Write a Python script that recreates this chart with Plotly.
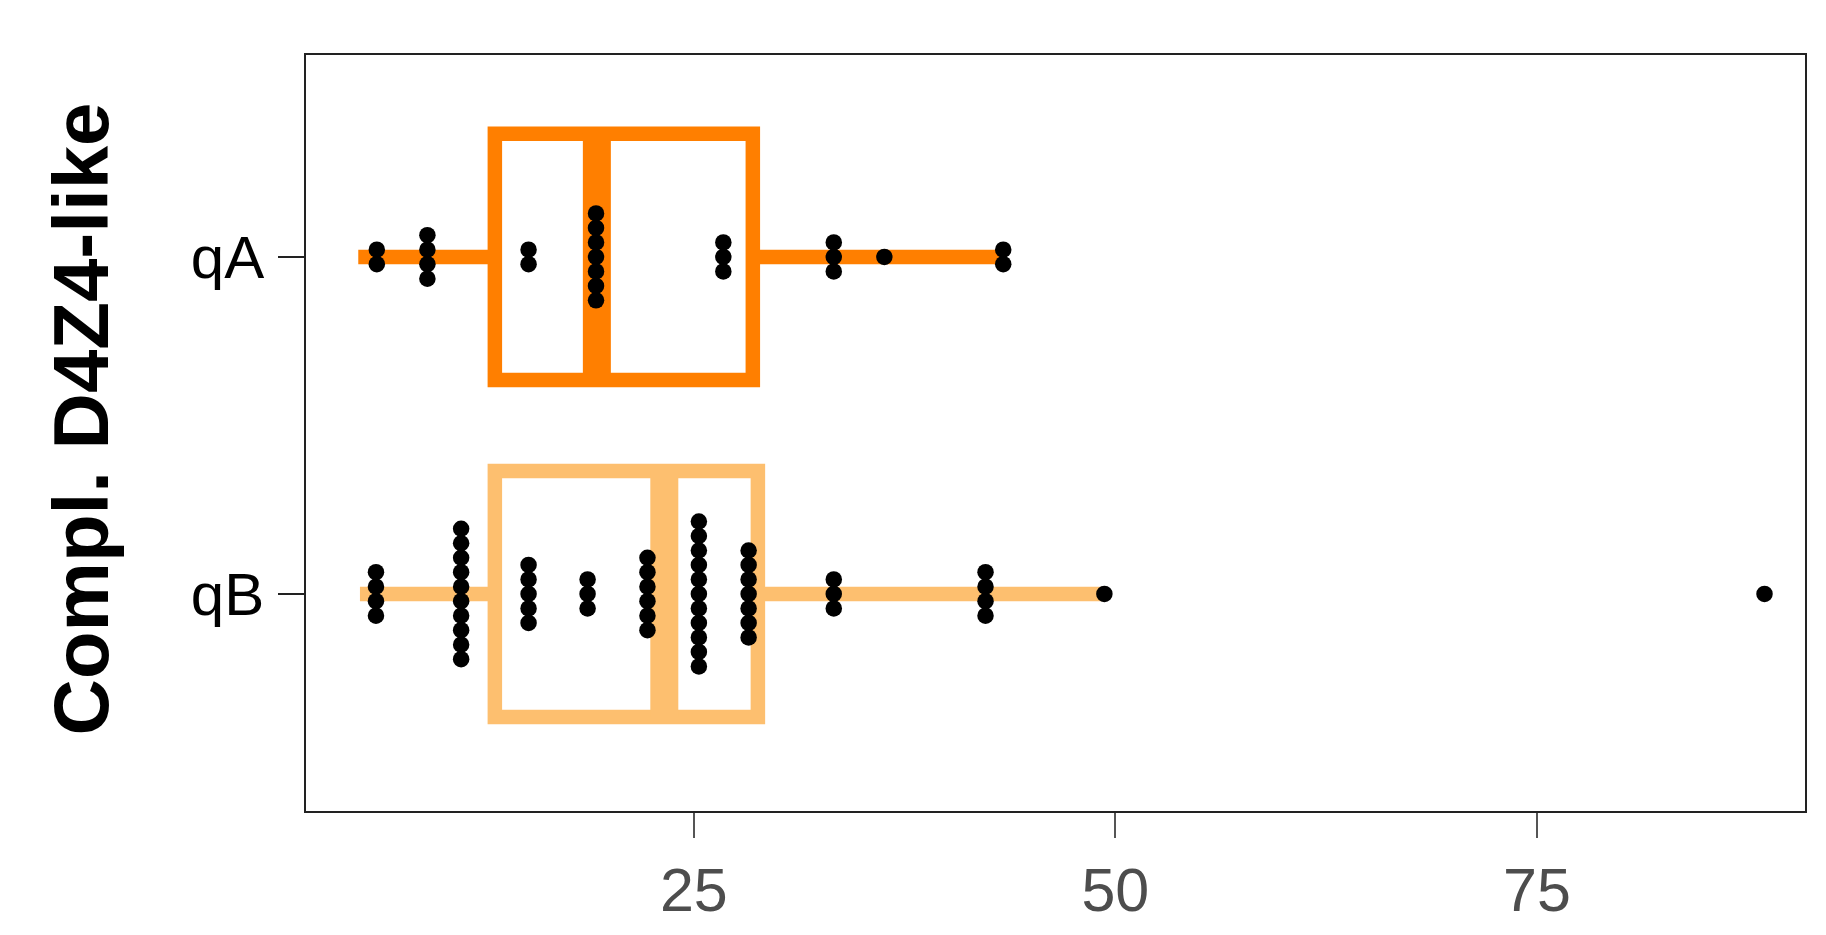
import plotly.graph_objects as go

# ---- data ----
groups = ["qA", "qB"]
group_pos = [2, 1]
box_colors = ["#FF7F00", "#FDBF6F"]

lowerfence = [5.1, 5.2]
q1 = [13.2, 13.2]
median = [19.25, 23.25]
q3 = [28.5, 28.8]
upperfence = [43.3, 49.2]

qA_dot_values = [6.2, 9.2, 15.2, 19.2, 26.75, 33.3, 36.3, 43.35]
qA_dot_counts = [2, 4, 2, 7, 3, 3, 1, 2]
qB_dot_values = [6.15, 11.2, 15.2, 18.7, 22.25, 25.3, 28.25, 33.3, 42.3, 49.35, 88.5]
qB_dot_counts = [4, 10, 5, 3, 6, 11, 7, 3, 4, 1, 1]

x_ticks = [25, 50, 75]
y_title = "Compl. D4Z4-like"

# ---- style ----
W, H = 1818, 927
L, R, T, B = 298, 21, 47, 124
box_width = 0.73
dot_step = 0.043
dot_size = 16.5

fig = go.Figure()

for i, g in enumerate(groups):
    pos = group_pos[i]
    fig.add_trace(go.Box(
        y=[pos], q1=[q1[i]], median=[median[i]], q3=[q3[i]],
        lowerfence=[lowerfence[i]], upperfence=[upperfence[i]],
        orientation="h", width=box_width, whiskerwidth=0,
        line=dict(color=box_colors[i], width=14.5),
        fillcolor="rgba(0,0,0,0)", boxpoints=False,
        hoverinfo="skip", showlegend=False,
    ))
    fig.add_trace(go.Scatter(
        x=[median[i], median[i]], y=[pos - box_width / 2, pos + box_width / 2],
        mode="lines", line=dict(color=box_colors[i], width=28),
        hoverinfo="skip", showlegend=False,
    ))

def swarm(values, counts, pos):
    xs, ys = [], []
    for v, n in zip(values, counts):
        for k in range(n):
            xs.append(v)
            ys.append(pos + (k - (n - 1) / 2) * dot_step)
    return xs, ys

for vals, cnts, pos in [(qA_dot_values, qA_dot_counts, 2), (qB_dot_values, qB_dot_counts, 1)]:
    xs, ys = swarm(vals, cnts, pos)
    fig.add_trace(go.Scatter(
        x=xs, y=ys, mode="markers",
        marker=dict(color="black", size=dot_size, line=dict(width=0)),
        hoverinfo="skip", showlegend=False,
    ))

fig.update_layout(
    width=W, height=H, autosize=False,
    margin=dict(l=L, r=R, t=T, b=B, autoexpand=False),
    paper_bgcolor="white", plot_bgcolor="white",
    font=dict(family="Liberation Sans, Arial, sans-serif", color="black"),
)
fig.update_xaxes(
    range=[2.0, 90.9], tickvals=x_ticks, ticktext=[str(t) for t in x_ticks],
    showgrid=False, zeroline=False, automargin=False,
    showline=True, mirror=True, linecolor="#222", linewidth=1.5,
    ticks="outside", ticklen=25, tickwidth=1.5, tickcolor="#555",
    tickfont=dict(family="Liberation Sans, Arial, sans-serif", size=61, color="#4D4D4D"),
    ticklabelstandoff=0,
)
fig.update_yaxes(
    range=[0.356, 2.599], tickvals=group_pos, ticktext=groups,
    showgrid=False, zeroline=False, automargin=False,
    showline=True, mirror=True, linecolor="#222", linewidth=1.5,
    ticks="outside", ticklen=26, tickwidth=1.5, tickcolor="#222",
    tickfont=dict(size=60, color="black"),
    ticklabelstandoff=2,
)
fig.add_annotation(
    text="<b>" + y_title + "</b>", xref="paper", yref="paper",
    x=(73 - L) / (W - L - R), y=0.518, xanchor="center", yanchor="middle",
    textangle=-90, showarrow=False,
    font=dict(size=78, color="black", family="Liberation Sans, Arial, sans-serif"),
)

fig.write_html("out.html")
